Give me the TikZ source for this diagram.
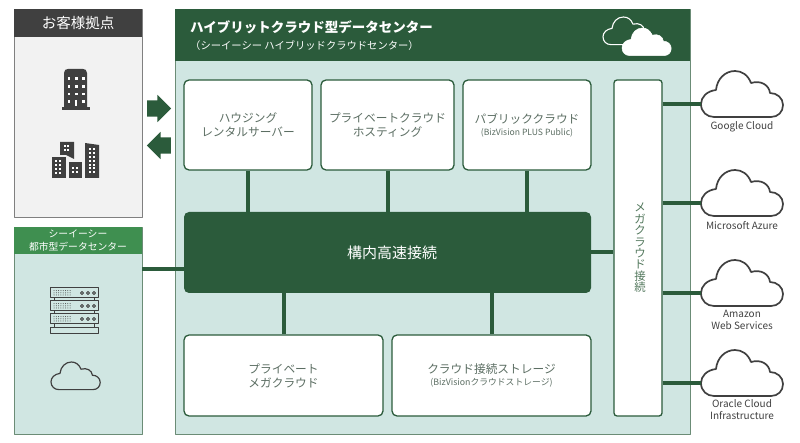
\documentclass[tikz,border=0pt]{standalone}
\usepackage{fontspec}
\setmainfont{Noto Sans CJK JP}
\usetikzlibrary{shapes.arrows}

\definecolor{hdgreen}{HTML}{2B5B3B}
\definecolor{midgreen}{HTML}{3F8F50}
\definecolor{palegreen}{HTML}{D0E6E2}
\definecolor{icongray}{HTML}{404040}
\definecolor{boxtext}{HTML}{5C6E63}

\tikzset{
  panel/.style={rounded corners=5pt, draw=hdgreen, line width=1.3pt, fill=white,
    inner sep=0pt, align=center, text=boxtext, font=\fontsize{11.7}{14}\selectfont},
  site/.style={draw=hdgreen!70, line width=0.7pt, fill=palegreen, inner sep=0pt, outer sep=0pt},
  header/.style={inner sep=0pt, align=center, text=white},
  link/.style={draw=hdgreen, line width=4pt},
  flow/.style={single arrow, fill=hdgreen, inner sep=0pt, minimum height=24pt,
    single arrow head extend=5.5pt},
  cloudname/.style={inner sep=0pt, align=center, text=icongray,
    font=\fontsize{10}{12}\selectfont},
  pics/cloudicon/.style={code={
    \coordinate (-west) at (0,33);
    \path [pic actions] (13,46) -- (70,46) .. controls (77,46) and (82,41) .. (82,34)
      .. controls (82,27) and (76,22) .. (69,22) .. controls (68,14) and (60,9) .. (50,12)
      .. controls (47,4) and (41,0) .. (34,0) .. controls (24,0) and (16,8) .. (15,19)
      .. controls (6,20) and (0,26) .. (0,33) .. controls (0,41) and (6,46) .. (13,46) -- cycle;
  }}
}

\begin{document}
\begin{tikzpicture}[x=1pt, y=-1pt, line join=round]
  \useasboundingbox (0,0) rectangle (800,443);

  % customer site
  \node [site, draw=gray, fill=black!5, minimum width=128pt, minimum height=208pt] (custbox) at (78,113) {};
  \node [header, fill=icongray, minimum width=128pt, minimum height=28pt,
    font=\fontsize{14.5}{17}\selectfont] (custhead) at (78,23) {お客様拠点};

  % urban data center
  \node [site, minimum width=128pt, minimum height=207pt] (dcbox) at (78,330.5) {};
  \node [header, fill=midgreen, minimum width=128pt, minimum height=27pt,
    font=\fontsize{9.8}{13}\selectfont] (dchead) at (78,240.5) {シーイーシー\\都市型データセンター};

  % hybrid data center
  \node [site, minimum width=515pt, minimum height=425pt] (hybox) at (432.5,221.5) {};
  \path [fill=hdgreen] (175,9) rectangle (690,61);
  \node [header, anchor=west, font=\fontsize{13.5}{16}\selectfont\bfseries] (hytitle) at (190,27) {ハイブリットクラウド型データセンター};
  \node [header, anchor=west, font=\fontsize{10.3}{12}\selectfont] (hysub) at (190,46) {（シーイーシー ハイブリッドクラウドセンター）};

  % service boxes
  \node [panel, minimum width=128pt, minimum height=90pt] (housing) at (248,125) {ハウジング\\レンタルサーバー};
  \node [panel, minimum width=133pt, minimum height=90pt] (hosting) at (387.5,125) {プライベートクラウド\\ホスティング};
  \node [panel, minimum width=128pt, minimum height=90pt] (public) at (527,125)
    {パブリッククラウド\\[-2pt]{\fontsize{8.6}{10}\selectfont (BizVision PLUS Public)}};
  \node [panel, fill=hdgreen, draw=none, outer sep=0pt, text=white, minimum width=407pt, minimum height=81pt,
    font=\fontsize{15}{17}\selectfont] (core) at (387.5,252.5) {\hspace*{9pt}構内高速接続};
  \node [panel, minimum width=199pt, minimum height=81pt] (privmega) at (283.5,375.5) {プライベート\\メガクラウド};
  \node [panel, minimum width=199pt, minimum height=81pt] (storage) at (491.5,375.5)
    {クラウド接続ストレージ\\[-2pt]{\fontsize{8.8}{10}\selectfont (BizVisionクラウドストレージ)}};
  \node [panel, rounded corners=3pt, minimum width=48pt, minimum height=336pt] (mega) at (638,248) {};
  \node [inner sep=0pt, align=center, text=boxtext!70!midgreen, font=\fontsize{11.4}{11.4}\selectfont] (megatext) at (640,248)
    {メ\\ガ\\ク\\ラ\\ウ\\ド\\接\\続};

  % in and out
  \node [flow] (flowin) at (155,108.5) {\rule{0pt}{16pt}};
  \node [flow, shape border rotate=180] (flowout) at (163,145.5) {\rule{0pt}{16pt}};

  % outside clouds
  \pic [draw=icongray, fill=white, line width=1.7pt] (google) at (701,71) {cloudicon};
  \pic [draw=icongray, fill=white, line width=1.7pt] (azure) at (701,170) {cloudicon};
  \pic [draw=icongray, fill=white, line width=1.7pt] (amazon) at (701,260) {cloudicon};
  \pic [draw=icongray, fill=white, line width=1.7pt] (oracle) at (701,350) {cloudicon};
  \node [cloudname] (googlename) at (742,127) {Google Cloud};
  \node [cloudname] (azurename) at (742,226) {Microsoft Azure};
  \node [cloudname] (amazonname) at (742,320) {Amazon\\Web Services};
  \node [cloudname] (oraclename) at (742,410) {Oracle Cloud\\Infrastructure};

  % connections
  \coordinate (dclink) at (0,269);
  \draw [link] (dclink -| dcbox.east) -- (dclink -| core.west);
  \foreach \i in {housing,hosting,public}
    \draw [link] (\i.south) -- (\i.south |- core.north);
  \foreach \i in {privmega,storage}
    \draw [link] (\i.north) -- (\i.north |- core.south);
  \draw [link] (core.east) -- (core.east -| mega.west);
  \foreach \i in {google,azure,amazon,oracle}
    \draw [link] (\i-west -| mega.east) -- (\i-west);

  % header clouds
  \pic [draw=white, line width=1.1pt, scale=0.6] (hdcloudback) at (603,17) {cloudicon};
  \pic [draw=white, fill=white, line width=0.5pt, scale=0.6] (hdcloudfront) at (622,28) {cloudicon};

  % single building
  \fill [icongray] (64,108) -- (64,73) .. controls (64,70) and (66,69) .. (68,69) -- (83,69)
    .. controls (85,69) and (87,70) .. (87,73) -- (87,108) -- cycle;
  \fill [icongray] (62,107.5) rectangle (90,110);
  \foreach \i in {0,1,2}
  \foreach \j [evaluate={\x=67.8+7.2*\i; \y=77.5+7.6*\j;}] in {0,1,2,3}{
    \fill [white] (\x,\y) rectangle ++(2.6,2.6);
  }
  \fill [icongray] (74.5,99.5) rectangle (77.5,104.5);
  \fill [white] (75,100) rectangle (77,106);

  % group of buildings
  \fill [icongray] (60,142) -- (74,142) -- (74,159) -- (66,155) -- (60,155) -- cycle;
  \fill [icongray] (52,157) -- (66,157) -- (66,178) -- (52,178) -- cycle;
  \fill [icongray] (69,162) -- (82,162) -- (82,178) -- (69,178) -- cycle;
  \fill [icongray] (85,143) -- (99,145) -- (99,178) -- (85,178) -- cycle;
  \foreach \i in {0,1}
  \foreach \j in {0,1}{
    \fill [white] (63.5+3.6*\i,145+3.8*\j) rectangle ++(2,2);
    \fill [white] (72+4*\i,167+4*\j) rectangle ++(2,2);
  }
  \foreach \i in {0,1}
  \foreach \j in {0,...,3}{
    \fill [white] (55+3.7*\i,160.5+3.7*\j) rectangle ++(2,2);
  }
  \foreach \i in {0,1}
  \foreach \j in {0,...,6}{
    \fill [white] (89+3.7*\i,148+3.9*\j) rectangle ++(2,2);
  }

  % server rack
  \foreach \y in {288,301,314}{
    \draw [icongray, line width=1pt] (50.5,\y) rectangle (98.5,\y+10);
    \foreach \i in {0,...,7}
    \foreach \j in {0,1,2}{
      \fill [icongray] (54+2.3*\i,\y+2.6+2.2*\j) circle (0.5);
    }
    \foreach \x in {82,88,94}{
      \draw [icongray, line width=0.9pt] (\x,\y+5) circle (1.6);
    }
  }
  \draw [icongray, line width=1pt] (50.5,327.5) rectangle (98.5,334);
  \foreach \y in {298,311,324}{
    \draw [icongray, line width=1pt] (54.5,\y) -- ++(0,3);
    \draw [icongray, line width=1pt] (94.5,\y) -- ++(0,3);
  }

  % data center cloud
  \pic [draw=icongray, line width=1.2pt, scale=0.6] (dccloud) at (51,362) {cloudicon};
\end{tikzpicture}
\end{document}
